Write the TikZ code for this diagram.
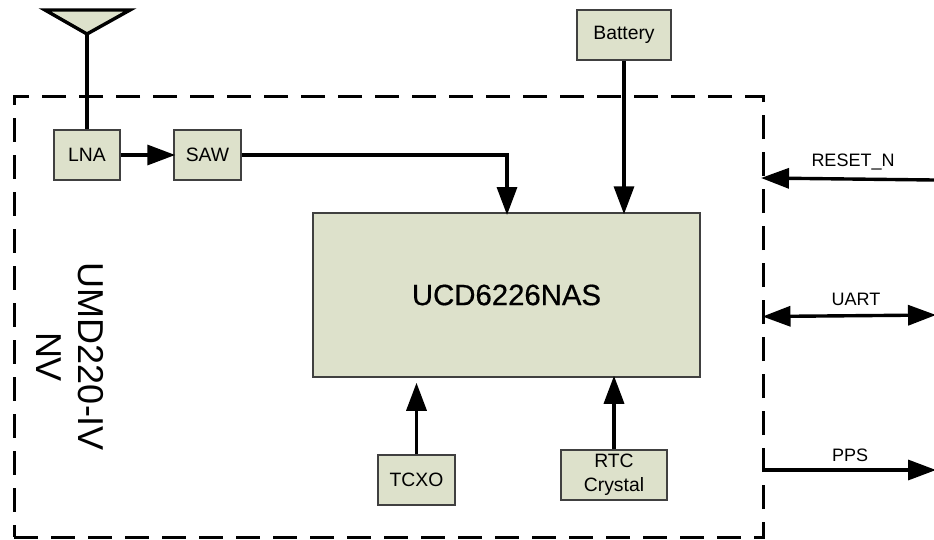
\documentclass[tikz,border=0pt]{standalone}
\usepackage{fontspec}
\setmainfont{Liberation Sans}
\newfontfamily\chipfont[FakeBold=0.6]{Liberation Sans}
\usetikzlibrary{calc, arrows.meta}

\begin{document}
\begin{tikzpicture}[x=0.75pt,y=-0.75pt]
	\def\px{0.75pt}
	\tikzstyle{block}=[draw=black!75, fill=boxfill, line width=1.5*\px, inner sep=0pt, align=center, minimum height=50*\px, font=\fontsize{14.5}{18}\selectfont]
	\tikzstyle{wire}=[line width=3.4*\px]
	\tikzstyle{tip}=[wire, shorten >=-2*\px, -{Triangle[length=28*\px,width=20*\px]}]
	\tikzstyle{bothtip}=[wire, shorten >=-2*\px, shorten <=-2*\px, {Triangle[length=28*\px,width=20*\px]}-{Triangle[length=28*\px,width=20*\px]}]
	\tikzstyle{sig}=[inner sep=0pt, font=\fontsize{13.5}{16}\selectfont]
	\definecolor{boxfill}{HTML}{DDE1CB}

	\useasboundingbox (0,0) rectangle (934,539);

	\node (frame) [draw, line width=3*\px, dash pattern=on 18pt off 9.75pt, minimum width=749*\px, minimum height=441*\px] at (388.5,316.5) {};

	\begin{scope}
		\node (lna) [block, minimum width=66*\px] at (87,155) {LNA};
		\node (saw) [block, minimum width=67*\px] at (207.5,155) {SAW};
		\node (chip) [block, minimum width=387*\px, minimum height=164*\px, font=\chipfont\fontsize{22}{26}\selectfont] at (506.5,295) {UCD6226NAS};
		\node (battery) [block, minimum width=94*\px] at (624,35) {Battery};
		\node (tcxo) [block, minimum width=77*\px] at (416.5,480) {TCXO};
		\node (rtc) [block, minimum width=106*\px] at (614,475) {RTC\\Crystal};
	\end{scope}

	\begin{scope}
		\coordinate (apex) at (87,34);
		\draw [wire, fill=boxfill, line join=miter] (45,10) -- (130,10) -- (apex) -- cycle;
		\draw [wire] (apex) -- (lna.north);
	\end{scope}

	\begin{scope}
		\draw [tip] (lna.east) -- (saw.west);
		\coordinate (sawturn) at (507,155);
		\coordinate (sawin) at (507,213);
		\draw [tip] (saw.east) -- (sawturn) -- (sawin);
		\draw [tip] (battery.south) -- (battery.south |- chip.north);
		\draw [tip, shorten >=5*\px] (tcxo.north) -- (tcxo.north |- chip.south);
		\draw [tip] (rtc.north) -- (rtc.north |- chip.south);
	\end{scope}

	\begin{scope}
		\coordinate (resetfar) at (934,180);
		\coordinate (resetnear) at (763,178);
		\coordinate (uartfar) at (934,315);
		\coordinate (ppsnear) at (763,470);
		\coordinate (ppsfar) at (934,470);
		\draw [tip] (resetfar) -- (resetnear);
		\draw [bothtip] (frame.east) -- (uartfar);
		\draw [tip] (ppsnear) -- (ppsfar);
		\node (resetlabel) [sig] at (853,162) {RESET\_N};
		\node (uartlabel) [sig] at (856,299) {UART};
		\node (ppslabel) [sig] at (850,455) {PPS};
	\end{scope}

	\node (modname) [rotate=-90, align=center, inner sep=0pt, font=\fontsize{27}{32}\selectfont] at (70,357) {UMD220-IV\\NV};
\end{tikzpicture}
\end{document}
